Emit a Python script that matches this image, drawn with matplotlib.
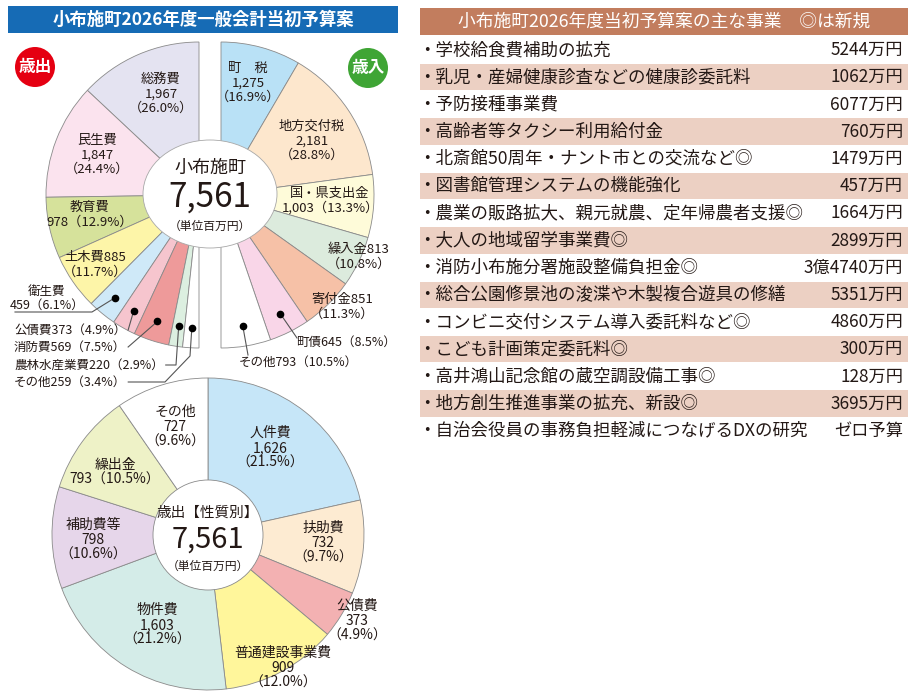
import matplotlib
matplotlib.use("Agg")
import matplotlib.pyplot as plt
import numpy as np
from matplotlib.patches import Rectangle, Circle, Ellipse

plt.rcParams['font.family'] = ['Noto Sans CJK JP', 'DejaVu Sans']
INK = "#231815"

TOTAL = 7561

# 歳出 (目的別)
out_names = ["総務費", "民生費", "教育費", "土木費", "衛生費", "公債費", "消防費", "農林水産業費", "その他"]
out_values = [1967, 1847, 978, 885, 459, 373, 569, 220, 259]

# 歳入
in_names = ["町　税", "地方交付税", "国・県支出金", "繰入金", "寄付金", "町債", "その他"]
in_values = [1275, 2181, 1003, 813, 851, 645, 793]

# 歳出 (性質別)
kind_names = ["人件費", "扶助費", "公債費", "普通建設事業費", "物件費", "補助費等", "繰出金", "その他"]
kind_values = [1626, 732, 373, 909, 1603, 798, 793, 727]

# 主な事業
items = [
    "学校給食費補助の拡充",
    "乳児・産婦健康診査などの健康診委託料",
    "予防接種事業費",
    "高齢者等タクシー利用給付金",
    "北斎館50周年・ナント市との交流など◎",
    "図書館管理システムの機能強化",
    "農業の販路拡大、親元就農、定年帰農者支援◎",
    "大人の地域留学事業費◎",
    "消防小布施分署施設整備負担金◎",
    "総合公園修景池の浚渫や木製複合遊具の修繕",
    "コンビニ交付システム導入委託料など◎",
    "こども計画策定委託料◎",
    "高井鴻山記念館の蔵空調設備工事◎",
    "地方創生推進事業の拡充、新設◎",
    "自治会役員の事務負担軽減につなげるDXの研究",
]
amounts = ["5244万円", "1062万円", "6077万円", "760万円", "1479万円", "457万円", "1664万円",
           "2899万円", "3億4740万円", "5351万円", "4860万円", "300万円", "128万円", "3695万円", "ゼロ予算"]

# styles
out_colors = ["#e4e3f1", "#fbe3ee", "#d6e29b", "#fdf5a8", "#cfe9f8", "#f6c5ce", "#ee9a9a", "#dcefe0", "#ffffff"]
in_colors = ["#b9e1f6", "#fde7cd", "#fefbd9", "#dcebdd", "#f6c1a7", "#f9d6e8", "#ffffff"]
kind_colors = ["#c6e6f8", "#fdebd2", "#f3b1b2", "#fff69b", "#d4ece8", "#e6d6ea", "#eef2c7", "#ffffff"]

# label layout: kind, x, y of middle line  (a: name/value/pct, b: name/value+pct, c: name+value/pct, d: one line)
out_lab = [("a", 161, 94), ("a", 97, 155), ("b", 90, 215), ("c", 95, 265), ("b", 47, 298),
           ("d", 14, 330), ("d", 14, 347), ("d", 14, 365), ("d", 14, 382)]
in_lab = [("a", 248, 83), ("a", 312, 141), ("b", 330, 201), ("c", 359, 257), ("c", 342, 307),
          ("d", 346, 342), ("d", 298, 362)]
kind_lab = [("a", 270, 448), ("a", 323, 543), ("a", 357, 621), ("a", 283, 668), ("a", 157, 625),
            ("a", 93, 540), ("b", 115, 472), ("a", 175, 427)]

fig = plt.figure(figsize=(9.17, 7.0), dpi=100)
ax = fig.add_axes([0, 0, 1, 1])


def pct(v):
    return f"（{v / TOTAL * 100:.1f}%）"


def label(kind, x, y, name, v, step=14.5, size=9.5, ha="center"):
    if kind == "a":
        lines = [name, f"{v:,}", pct(v)]
    elif kind == "b":
        lines = [name, f"{v:,}" + pct(v)]
    elif kind == "c":
        lines = [name + f"{v:,}", pct(v)]
    else:
        lines = [name + f"{v:,}" + pct(v)]
    y0 = y - step * (len(lines) - 1) / 2
    for i, s in enumerate(lines):
        ax.text(x, y0 + i * step, s, ha=ha, va="center", fontsize=size, color=INK, zorder=6)


edge = dict(edgecolor="#8a8a8a", linewidth=0.6)
R = 153

# 歳出 half (left), counter-clockwise on screen from top
sl = sum(out_values)
w_out, _ = ax.pie([v / sl / 2 for v in out_values], colors=out_colors, center=(199, 195), radius=R,
                  startangle=-90, counterclock=False, normalize=False,
                  wedgeprops=dict(width=R - 40, **edge))
# 歳入 half (right)
si = sum(in_values)
w_in, _ = ax.pie([v / si / 2 for v in in_values], colors=in_colors, center=(221, 195), radius=R,
                 startangle=-90, counterclock=True, normalize=False,
                 wedgeprops=dict(width=R - 40, **edge))
# 性質別
w_kind, _ = ax.pie(kind_values, colors=kind_colors, center=(208, 534), radius=156,
                   startangle=-90, counterclock=True, wedgeprops=edge)


def mid_point(w, r):
    t = np.deg2rad((w.theta1 + w.theta2) / 2)
    return w.center[0] + r * np.cos(t), w.center[1] + r * np.sin(t)


ax.set_xlim(0, 917)
ax.set_ylim(700, 0)
ax.set_aspect("auto")
ax.axis("off")

# centre discs
ax.add_patch(Ellipse((210, 194), 134, 108, facecolor="white", edgecolor="#a8a8a8", lw=0.6, zorder=4))
ax.text(210, 168, "小布施町", ha="center", va="center", fontsize=13, color=INK, zorder=6)
ax.text(210, 197, "7,561", ha="center", va="center", fontsize=24, color=INK, zorder=6)
ax.text(210, 226, "（単位百万円）", ha="center", va="center", fontsize=8.5, color=INK, zorder=6)

ax.add_patch(Circle((208, 535), 55, facecolor="white", edgecolor="#8a8a8a", lw=0.6, zorder=4))
ax.text(208, 513, "歳出【性質別】", ha="center", va="center", fontsize=10.5, color=INK, zorder=6)
ax.text(208, 540, "7,561", ha="center", va="center", fontsize=21, color=INK, zorder=6)
ax.text(208, 566, "（単位百万円）", ha="center", va="center", fontsize=8.5, color=INK, zorder=6)

# badges
ax.add_patch(Circle((35, 67), 20, facecolor="#e50012", edgecolor="none", zorder=5))
ax.text(35, 67, "歳出", ha="center", va="center", fontsize=12, fontweight="bold", color="white", zorder=6)
ax.add_patch(Circle((368, 68), 20, facecolor="#3fa535", edgecolor="none", zorder=5))
ax.text(368, 68, "歳入", ha="center", va="center", fontsize=12, fontweight="bold", color="white", zorder=6)

# title bar
ax.add_patch(Rectangle((8, 6), 390, 27, facecolor="#166bb5", edgecolor="none"))
ax.text(203, 19.5, "小布施町2026年度一般会計当初予算案", ha="center", va="center",
        fontsize=12.5, fontweight="bold", color="white")

renderer = fig.canvas.get_renderer()
inv = ax.transData.inverted()
line_kw = dict(color="#555555", lw=0.8, zorder=6)

# 歳出 labels
for i, (name, v, (kind, x, y)) in enumerate(zip(out_names, out_values, out_lab)):
    if kind == "d":
        label(kind, x, y, name, v, size=9, ha="left")
    else:
        label(kind, x, y, name, v, size=9.5 if i < 4 else 9, step=14.5 if i < 4 else 14)

dots = {i: mid_point(w_out[i], 133) for i in range(4, 9)}
for i, p in dots.items():
    ax.plot(*p, "o", color="black", ms=4.5, zorder=7)
ax.plot([15, 92, dots[4][0]], [312, 312, dots[4][1]], **line_kw)


def leader_from(text_str, via, dot):
    t = [tt for tt in ax.texts if tt.get_text() == text_str][0]
    bb = t.get_window_extent(renderer)
    x0 = inv.transform((bb.x1, bb.y0))[0] + 2
    yy = t.get_position()[1]
    xs = [x0] + [p[0] for p in via] + [dot[0]]
    ys = [yy] + [p[1] for p in via] + [dot[1]]
    ax.plot(xs, ys, **line_kw)


leader_from("公債費373（4.9%）", [], dots[5])
leader_from("消防費569（7.5%）", [], dots[6])
leader_from("農林水産業費220（2.9%）", [(176, 365)], dots[7])
leader_from("その他259（3.4%）", [(165, 382), (190, 356)], dots[8])

# 歳入 labels
for i, (name, v, (kind, x, y)) in enumerate(zip(in_names, in_values, in_lab)):
    label(kind, x, y, name, v, size=9.5 if i < 5 else 9)
for i, tail in [(5, (297, 338)), (6, (248, 355))]:
    p = mid_point(w_in[i], 133)
    ax.plot(*p, "o", color="black", ms=4.5, zorder=7)
    ax.plot([p[0], tail[0]], [p[1], tail[1]], **line_kw)

# 性質別 labels
for name, v, (kind, x, y) in zip(kind_names, kind_values, kind_lab):
    label(kind, x, y, name, v, step=15, size=10)

# table
ax.add_patch(Rectangle((420, 8), 488, 27, facecolor="#c27d5e", edgecolor="none"))
ax.text(664, 21.5, "小布施町2026年度当初予算案の主な事業　◎は新規", ha="center", va="center",
        fontsize=12.8, color="white")
for i, (it, am) in enumerate(zip(items, amounts)):
    yc = 50 + 27.2 * i
    if i % 2 == 1:
        ax.add_patch(Rectangle((420, yc - 13.2), 488, 26.4, facecolor="#ecd0c3", edgecolor="none"))
    ax.text(418, yc, "・" + it, ha="left", va="center", fontsize=12.6, color=INK)
    ax.text(903, yc, am, ha="right", va="center", fontsize=12.4, color=INK)

fig.savefig("out.png", dpi=100)
